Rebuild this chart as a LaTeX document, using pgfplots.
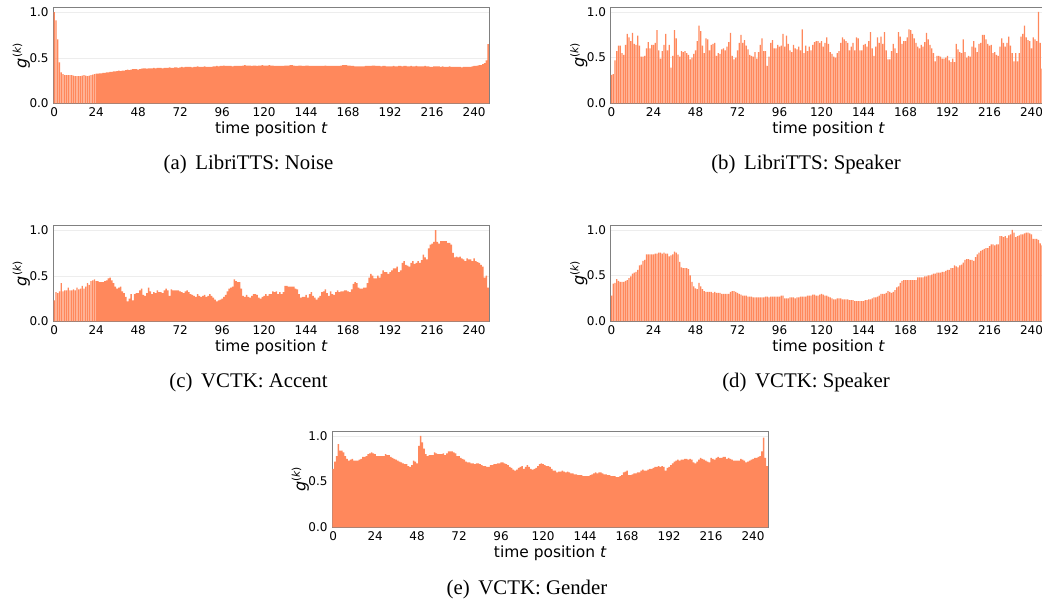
\documentclass[border=0pt]{standalone}
\usepackage{pgfplots}
\pgfplotsset{compat=1.18}
\usepackage{pgfplotstable}
\usepackage{fontspec}
\setmainfont{Liberation Serif}
\newfontfamily\dejavu{DejaVu Sans}
\definecolor{barc}{RGB}{255,136,92}
\definecolor{axgray}{RGB}{128,128,128}

% (a) LibriTTS: Noise
\pgfplotstableread[header=false,row sep=\\]{
1.00\\0.91\\0.70\\0.45\\0.34\\0.32\\0.31\\0.31\\0.31\\0.31\\
0.31\\0.305\\0.30\\0.30\\0.30\\0.30\\0.305\\0.31\\0.305\\0.30\\
0.305\\0.31\\0.315\\0.32\\0.325\\0.325\\0.33\\0.33\\0.335\\0.335\\
0.34\\0.34\\0.345\\0.345\\0.35\\0.35\\0.355\\0.36\\0.355\\0.36\\
0.36\\0.365\\0.37\\0.365\\0.37\\0.375\\0.375\\0.375\\0.37\\0.375\\
0.38\\0.385\\0.385\\0.38\\0.385\\0.385\\0.385\\0.39\\0.385\\0.39\\
0.39\\0.39\\0.385\\0.39\\0.39\\0.39\\0.395\\0.39\\0.39\\0.395\\
0.395\\0.39\\0.395\\0.40\\0.395\\0.40\\0.40\\0.40\\0.40\\0.395\\
0.40\\0.40\\0.405\\0.40\\0.40\\0.40\\0.405\\0.40\\0.40\\0.40\\
0.40\\0.405\\0.405\\0.41\\0.405\\0.41\\0.41\\0.415\\0.41\\0.41\\
0.41\\0.41\\0.405\\0.41\\0.41\\0.41\\0.41\\0.41\\0.415\\0.42\\
0.415\\0.415\\0.415\\0.41\\0.415\\0.415\\0.41\\0.415\\0.415\\0.42\\
0.415\\0.415\\0.415\\0.42\\0.415\\0.415\\0.41\\0.41\\0.41\\0.41\\
0.41\\0.41\\0.415\\0.415\\0.415\\0.42\\0.42\\0.415\\0.41\\0.41\\
0.415\\0.415\\0.41\\0.41\\0.415\\0.415\\0.41\\0.41\\0.41\\0.41\\
0.41\\0.41\\0.41\\0.41\\0.41\\0.415\\0.41\\0.41\\0.41\\0.41\\
0.41\\0.41\\0.41\\0.41\\0.415\\0.42\\0.42\\0.42\\0.415\\0.415\\
0.41\\0.41\\0.405\\0.405\\0.405\\0.405\\0.405\\0.405\\0.41\\0.41\\
0.41\\0.41\\0.415\\0.415\\0.41\\0.41\\0.41\\0.405\\0.41\\0.41\\
0.405\\0.405\\0.405\\0.405\\0.41\\0.405\\0.405\\0.41\\0.41\\0.405\\
0.41\\0.41\\0.405\\0.405\\0.41\\0.405\\0.405\\0.41\\0.405\\0.405\\
0.405\\0.405\\0.41\\0.405\\0.405\\0.40\\0.40\\0.405\\0.405\\0.405\\
0.405\\0.40\\0.405\\0.40\\0.40\\0.40\\0.405\\0.40\\0.40\\0.40\\
0.40\\0.40\\0.40\\0.395\\0.40\\0.40\\0.40\\0.40\\0.40\\0.405\\
0.41\\0.41\\0.415\\0.42\\0.42\\0.43\\0.44\\0.47\\0.65\\
}\dataA

% (b) LibriTTS: Speaker
\pgfplotstableread[header=false,row sep=\\]{
0.31\\0.32\\0.47\\0.57\\0.63\\0.63\\0.55\\0.53\\0.64\\0.76\\
0.72\\0.68\\0.77\\0.65\\0.64\\0.74\\0.63\\0.51\\0.51\\0.52\\
0.60\\0.67\\0.60\\0.64\\0.64\\0.66\\0.80\\0.58\\0.49\\0.57\\
0.64\\0.76\\0.58\\0.64\\0.39\\0.52\\0.80\\0.71\\0.53\\0.51\\
0.57\\0.56\\0.57\\0.55\\0.53\\0.48\\0.50\\0.54\\0.58\\0.68\\
0.85\\0.79\\0.63\\0.55\\0.71\\0.70\\0.58\\0.64\\0.65\\0.66\\
0.52\\0.55\\0.54\\0.59\\0.60\\0.58\\0.62\\0.67\\0.77\\0.52\\
0.48\\0.50\\0.58\\0.66\\0.75\\0.66\\0.69\\0.63\\0.59\\0.53\\
0.52\\0.51\\0.56\\0.49\\0.56\\0.64\\0.71\\0.57\\0.57\\0.41\\
0.51\\0.66\\0.69\\0.60\\0.60\\0.64\\0.62\\0.63\\0.76\\0.62\\
0.74\\0.65\\0.58\\0.56\\0.64\\0.60\\0.59\\0.62\\0.58\\0.81\\
0.55\\0.63\\0.57\\0.62\\0.58\\0.64\\0.67\\0.68\\0.68\\0.66\\
0.68\\0.62\\0.66\\0.72\\0.65\\0.56\\0.54\\0.51\\0.50\\0.55\\
0.57\\0.66\\0.72\\0.70\\0.68\\0.66\\0.58\\0.62\\0.66\\0.58\\
0.72\\0.71\\0.58\\0.58\\0.64\\0.65\\0.62\\0.68\\0.78\\0.60\\
0.52\\0.62\\0.72\\0.66\\0.73\\0.65\\0.78\\0.58\\0.48\\0.48\\
0.57\\0.65\\0.60\\0.55\\0.78\\0.73\\0.65\\0.68\\0.68\\0.72\\
0.81\\0.80\\0.76\\0.71\\0.66\\0.62\\0.60\\0.64\\0.62\\0.67\\
0.77\\0.70\\0.64\\0.60\\0.55\\0.46\\0.52\\0.52\\0.51\\0.49\\
0.49\\0.50\\0.52\\0.47\\0.45\\0.49\\0.45\\0.65\\0.59\\0.56\\
0.55\\0.70\\0.56\\0.50\\0.52\\0.51\\0.62\\0.68\\0.61\\0.56\\
0.65\\0.66\\0.75\\0.75\\0.70\\0.65\\0.63\\0.64\\0.55\\0.56\\
0.53\\0.52\\0.62\\0.71\\0.66\\0.62\\0.66\\0.73\\0.63\\0.55\\
0.46\\0.55\\0.46\\0.55\\0.73\\0.76\\0.85\\0.72\\0.69\\0.68\\
0.60\\0.72\\0.70\\0.68\\1.00\\0.66\\0.38\\0.55\\0.60\\
}\dataB

% (c) VCTK: Accent
\pgfplotstableread[header=false,row sep=\\]{
0.23\\0.32\\0.31\\0.33\\0.42\\0.33\\0.34\\0.34\\0.37\\0.34\\
0.34\\0.35\\0.34\\0.37\\0.35\\0.36\\0.39\\0.36\\0.38\\0.42\\
0.40\\0.44\\0.45\\0.46\\0.44\\0.44\\0.43\\0.43\\0.43\\0.44\\
0.45\\0.47\\0.48\\0.45\\0.42\\0.38\\0.36\\0.37\\0.38\\0.33\\
0.31\\0.27\\0.22\\0.25\\0.30\\0.23\\0.30\\0.31\\0.31\\0.34\\
0.36\\0.29\\0.28\\0.31\\0.37\\0.33\\0.30\\0.32\\0.31\\0.34\\
0.32\\0.32\\0.31\\0.34\\0.36\\0.34\\0.28\\0.35\\0.34\\0.34\\
0.34\\0.34\\0.33\\0.32\\0.31\\0.33\\0.34\\0.32\\0.30\\0.29\\
0.28\\0.27\\0.30\\0.28\\0.27\\0.28\\0.29\\0.27\\0.28\\0.30\\
0.28\\0.26\\0.24\\0.22\\0.23\\0.24\\0.25\\0.27\\0.29\\0.33\\
0.36\\0.37\\0.38\\0.46\\0.44\\0.43\\0.43\\0.36\\0.28\\0.27\\
0.29\\0.27\\0.26\\0.28\\0.30\\0.30\\0.29\\0.26\\0.25\\0.27\\
0.28\\0.30\\0.28\\0.30\\0.30\\0.33\\0.32\\0.33\\0.30\\0.32\\
0.30\\0.32\\0.39\\0.39\\0.38\\0.38\\0.38\\0.38\\0.36\\0.35\\
0.30\\0.26\\0.27\\0.27\\0.29\\0.26\\0.30\\0.32\\0.28\\0.26\\
0.24\\0.26\\0.28\\0.32\\0.33\\0.35\\0.31\\0.28\\0.33\\0.30\\
0.29\\0.32\\0.34\\0.32\\0.33\\0.33\\0.34\\0.34\\0.33\\0.32\\
0.35\\0.41\\0.43\\0.42\\0.37\\0.36\\0.36\\0.37\\0.37\\0.42\\
0.48\\0.52\\0.50\\0.47\\0.47\\0.50\\0.48\\0.52\\0.56\\0.54\\
0.54\\0.52\\0.54\\0.56\\0.58\\0.58\\0.60\\0.54\\0.56\\0.64\\
0.66\\0.62\\0.61\\0.60\\0.64\\0.66\\0.63\\0.64\\0.66\\0.64\\
0.67\\0.73\\0.70\\0.68\\0.80\\0.84\\0.85\\0.87\\1.00\\0.87\\
0.85\\0.88\\0.88\\0.88\\0.88\\0.86\\0.86\\0.84\\0.75\\0.70\\
0.71\\0.70\\0.71\\0.69\\0.68\\0.66\\0.69\\0.68\\0.68\\0.66\\
0.69\\0.66\\0.65\\0.64\\0.62\\0.60\\0.48\\0.50\\0.37\\
}\dataC

% (d) VCTK: Speaker
\pgfplotstableread[header=false,row sep=\\]{
0.28\\0.41\\0.42\\0.46\\0.44\\0.43\\0.43\\0.43\\0.44\\0.45\\
0.47\\0.49\\0.52\\0.53\\0.54\\0.56\\0.61\\0.62\\0.66\\0.67\\
0.73\\0.73\\0.73\\0.73\\0.73\\0.74\\0.74\\0.75\\0.75\\0.74\\
0.75\\0.74\\0.74\\0.71\\0.72\\0.73\\0.76\\0.75\\0.73\\0.65\\
0.59\\0.58\\0.58\\0.58\\0.57\\0.50\\0.43\\0.38\\0.36\\0.35\\
0.42\\0.38\\0.35\\0.33\\0.32\\0.32\\0.32\\0.32\\0.31\\0.32\\
0.31\\0.31\\0.31\\0.30\\0.30\\0.30\\0.30\\0.30\\0.32\\0.33\\
0.33\\0.32\\0.31\\0.30\\0.29\\0.28\\0.28\\0.28\\0.27\\0.27\\
0.27\\0.26\\0.26\\0.26\\0.26\\0.26\\0.26\\0.26\\0.27\\0.27\\
0.26\\0.27\\0.27\\0.27\\0.27\\0.27\\0.27\\0.28\\0.28\\0.25\\
0.25\\0.25\\0.26\\0.26\\0.26\\0.25\\0.26\\0.26\\0.27\\0.27\\
0.27\\0.27\\0.28\\0.28\\0.28\\0.29\\0.29\\0.28\\0.28\\0.29\\
0.30\\0.29\\0.28\\0.28\\0.27\\0.26\\0.25\\0.24\\0.24\\0.25\\
0.25\\0.25\\0.24\\0.24\\0.24\\0.24\\0.23\\0.23\\0.23\\0.22\\
0.22\\0.22\\0.22\\0.22\\0.22\\0.23\\0.23\\0.24\\0.24\\0.25\\
0.26\\0.26\\0.27\\0.28\\0.30\\0.30\\0.30\\0.31\\0.33\\0.32\\
0.31\\0.32\\0.34\\0.37\\0.38\\0.42\\0.44\\0.45\\0.45\\0.45\\
0.45\\0.45\\0.45\\0.45\\0.45\\0.48\\0.48\\0.48\\0.48\\0.49\\
0.49\\0.50\\0.50\\0.51\\0.52\\0.52\\0.53\\0.53\\0.53\\0.54\\
0.54\\0.55\\0.56\\0.56\\0.58\\0.58\\0.61\\0.60\\0.59\\0.61\\
0.62\\0.64\\0.67\\0.68\\0.68\\0.67\\0.67\\0.66\\0.70\\0.73\\
0.75\\0.77\\0.78\\0.79\\0.80\\0.80\\0.82\\0.84\\0.84\\0.83\\
0.84\\0.84\\0.93\\0.93\\0.92\\0.93\\0.91\\0.94\\0.95\\1.00\\
0.97\\0.92\\0.93\\0.94\\0.95\\0.95\\0.96\\0.97\\0.97\\0.96\\
0.95\\0.90\\0.90\\0.90\\0.89\\0.85\\0.83\\0.80\\0.78\\
}\dataD

% (e) VCTK: Gender
\pgfplotstableread[header=false,row sep=\\]{
0.64\\0.72\\0.78\\0.91\\0.84\\0.84\\0.82\\0.78\\0.75\\0.73\\
0.74\\0.75\\0.73\\0.73\\0.73\\0.74\\0.75\\0.77\\0.77\\0.78\\
0.80\\0.81\\0.82\\0.81\\0.80\\0.78\\0.78\\0.78\\0.78\\0.78\\
0.80\\0.79\\0.79\\0.77\\0.76\\0.75\\0.74\\0.73\\0.72\\0.71\\
0.70\\0.69\\0.69\\0.67\\0.66\\0.68\\0.73\\0.72\\0.70\\0.89\\
1.00\\0.93\\0.86\\0.80\\0.78\\0.79\\0.79\\0.79\\0.82\\0.81\\
0.80\\0.80\\0.80\\0.81\\0.79\\0.81\\0.83\\0.83\\0.83\\0.82\\
0.81\\0.78\\0.78\\0.76\\0.75\\0.74\\0.72\\0.71\\0.71\\0.70\\
0.70\\0.69\\0.70\\0.70\\0.69\\0.68\\0.67\\0.67\\0.66\\0.66\\
0.68\\0.68\\0.69\\0.69\\0.70\\0.70\\0.71\\0.71\\0.70\\0.69\\
0.68\\0.66\\0.65\\0.63\\0.62\\0.63\\0.65\\0.66\\0.67\\0.64\\
0.66\\0.68\\0.66\\0.64\\0.63\\0.64\\0.65\\0.67\\0.69\\0.70\\
0.69\\0.68\\0.67\\0.67\\0.66\\0.64\\0.62\\0.62\\0.60\\0.61\\
0.61\\0.62\\0.61\\0.60\\0.61\\0.60\\0.59\\0.59\\0.58\\0.58\\
0.57\\0.57\\0.57\\0.56\\0.56\\0.56\\0.56\\0.57\\0.58\\0.59\\
0.60\\0.59\\0.60\\0.60\\0.59\\0.58\\0.58\\0.57\\0.57\\0.56\\
0.56\\0.56\\0.55\\0.55\\0.56\\0.57\\0.60\\0.61\\0.62\\0.57\\
0.57\\0.58\\0.59\\0.59\\0.60\\0.60\\0.62\\0.63\\0.62\\0.62\\
0.63\\0.64\\0.64\\0.65\\0.66\\0.66\\0.67\\0.66\\0.67\\0.66\\
0.62\\0.65\\0.66\\0.68\\0.70\\0.72\\0.73\\0.74\\0.73\\0.74\\
0.74\\0.75\\0.75\\0.74\\0.75\\0.74\\0.71\\0.70\\0.72\\0.74\\
0.76\\0.75\\0.74\\0.73\\0.72\\0.71\\0.76\\0.75\\0.74\\0.76\\
0.77\\0.76\\0.76\\0.77\\0.77\\0.75\\0.76\\0.75\\0.74\\0.73\\
0.73\\0.73\\0.73\\0.75\\0.74\\0.73\\0.71\\0.72\\0.73\\0.74\\
0.75\\0.76\\0.76\\0.77\\0.78\\0.83\\0.98\\0.76\\0.67\\
}\dataE

\pgfplotsset{
  gpanel/.style={
    scale only axis, width=327pt, height=72pt,
    xmin=-0.5, xmax=248.7, ymin=0, ymax=1.05,
    xtick={0,24,...,240}, ytick={0,0.5,1},
    yticklabel={\pgfmathprintnumber[fixed,fixed zerofill,precision=1]{\tick}},
    /pgf/number format/assume math mode=true,
    tick label style={font=\dejavu\fontsize{9}{10}\selectfont},
    xticklabel style={yshift=0.3pt},
    major tick length=0pt,
    axis line style={axgray, line width=0.6pt},
    ymajorgrids, grid style={black!7, line width=0.3pt},
    xlabel={time position \textit{t}},
    xlabel style={font=\dejavu\fontsize{11.6}{13}\selectfont,
      at={(axis description cs:0.5,0)}, anchor=base, yshift=-22.5pt},
    ylabel={\itshape g\textsuperscript{\upshape(\itshape k\upshape)}},
    ylabel style={font=\dejavu\fontsize{12}{13}\selectfont,
      at={(axis description cs:-0.061,0.5)}, anchor=base},
    anchor=south west,
  },
  gbars/.style={ybar, bar width=0.8, fill=barc, draw=none},
}

\newcommand{\capfont}{\fontsize{15.6}{18}\selectfont}

\begin{document}
\begin{tikzpicture}
\begin{axis}[gpanel, at={(40pt,372.4pt)}]
\addplot[gbars] table[x expr=\coordindex, y index=0]{\dataA};
\end{axis}
\begin{axis}[gpanel, at={(458pt,372.5pt)}]
\addplot[gbars] table[x expr=\coordindex, y index=0]{\dataB};
\end{axis}
\begin{axis}[gpanel, at={(40pt,208.9pt)}]
\addplot[gbars] table[x expr=\coordindex, y index=0]{\dataC};
\end{axis}
\begin{axis}[gpanel, at={(458pt,209.1pt)}]
\addplot[gbars] table[x expr=\coordindex, y index=0]{\dataD};
\end{axis}
\begin{axis}[gpanel, at={(249.2pt,54.5pt)}]
\addplot[gbars] table[x expr=\coordindex, y index=0]{\dataE};
\end{axis}
\node[anchor=base, font=\capfont, inner sep=0pt] at (186.4pt,322.5pt) {(a)\hspace{6.5pt}LibriTTS: Noise};
\node[anchor=base, font=\capfont, inner sep=0pt] at (604.5pt,322.5pt) {(b)\hspace{6.5pt}LibriTTS: Speaker};
\node[anchor=base, font=\capfont, inner sep=0pt] at (186.4pt,159pt) {(c)\hspace{6.5pt}VCTK: Accent};
\node[anchor=base, font=\capfont, inner sep=0pt] at (604.5pt,159pt) {(d)\hspace{6.5pt}VCTK: Speaker};
\node[anchor=base, font=\capfont, inner sep=0pt] at (395.25pt,3.8pt) {(e)\hspace{6.5pt}VCTK: Gender};
\pgfresetboundingbox
\path[use as bounding box] (0,0) rectangle (781.5pt,450pt);
\end{tikzpicture}
\end{document}
